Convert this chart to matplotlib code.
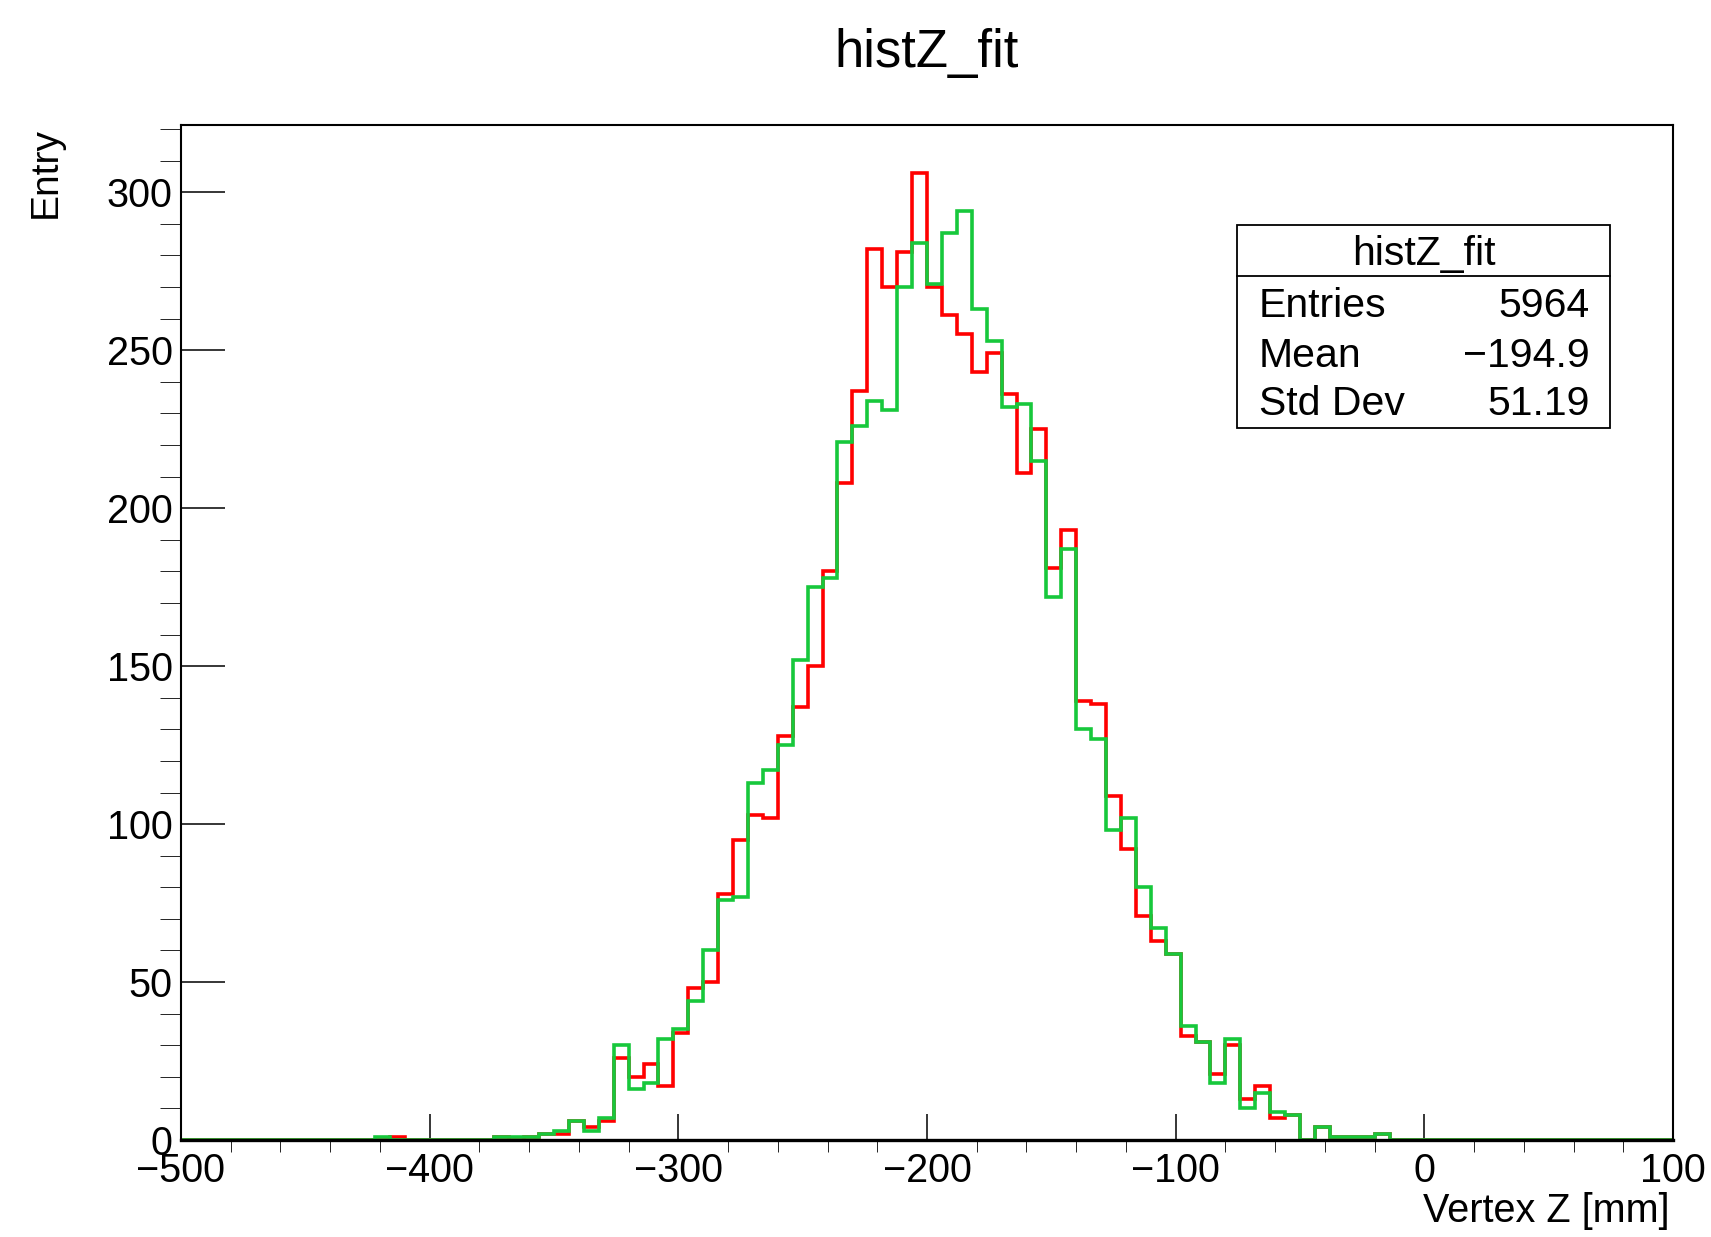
import numpy as np
import matplotlib
matplotlib.use('Agg')
import matplotlib.pyplot as plt
from matplotlib.patches import Rectangle
from matplotlib.lines import Line2D

plt.rcParams['font.family'] = ['Liberation Sans', 'DejaVu Sans']

# histogram binning: 100 bins from -500 to 100 mm
x_min, x_max, n_bins = -500, 100, 100

# bin contents (10 bins per row)
red_counts = [
    0, 0, 0, 0, 0, 0, 0, 0, 0, 0,
    0, 0, 0, 0, 1, 0, 0, 0, 0, 0,
    0, 1, 0, 1, 2, 2, 6, 4, 6, 26,
    20, 24, 17, 34, 48, 50, 78, 95, 103, 102,
    128, 137, 150, 180, 208, 237, 282, 270, 281, 306,
    270, 261, 255, 243, 249, 236, 211, 225, 181, 193,
    139, 138, 109, 92, 71, 63, 59, 33, 31, 21,
    30, 13, 17, 7, 8, 0, 4, 1, 1, 1,
    2, 0, 0, 0, 0, 0, 0, 0, 0, 0,
    0, 0, 0, 0, 0, 0, 0, 0, 0, 0,
]
green_counts = [
    0, 0, 0, 0, 0, 0, 0, 0, 0, 0,
    0, 0, 0, 1, 0, 0, 0, 0, 0, 0,
    0, 1, 1, 1, 2, 3, 6, 3, 7, 30,
    16, 18, 32, 35, 44, 60, 76, 77, 113, 117,
    125, 152, 175, 178, 221, 226, 234, 231, 270, 284,
    271, 287, 294, 263, 253, 232, 233, 215, 172, 187,
    130, 127, 98, 102, 80, 67, 59, 36, 31, 18,
    32, 10, 15, 9, 8, 0, 4, 1, 1, 1,
    2, 0, 0, 0, 0, 0, 0, 0, 0, 0,
    0, 0, 0, 0, 0, 0, 0, 0, 0, 0,
]

title = "histZ_fit"
stats_labels = ["Entries", "Mean", "Std Dev"]
stats_values = ["5964", "\u2212194.9", "51.19"]

W, H = 1711, 1237
fig = plt.figure(figsize=(W / 100, H / 100), dpi=100)

# frame in pixels: x 181..1673, y 125..1140
ax = fig.add_axes([181 / W, 1 - 1140 / H, (1673 - 181) / W, (1140 - 125) / H])

edges = np.linspace(x_min, x_max, n_bins + 1)
ax.stairs(red_counts, edges, color='#ff0000', linewidth=2.6, clip_on=False, zorder=2)
ax.stairs(green_counts, edges, color='#17c83c', linewidth=2.6, clip_on=False, zorder=2.1)

ax.set_xlim(x_min, x_max)
ax.set_ylim(0, 1.05 * max(red_counts))

ax.set_xticks(np.arange(-500, 101, 100))
ax.set_xticks(np.arange(-500, 101, 20), minor=True)
ax.set_yticks(np.arange(0, 301, 50))
ax.set_yticks(np.arange(0, 321, 10), minor=True)

ax.tick_params(axis='both', direction='in', labelsize=28.5, width=1.1)
ax.tick_params(axis='y', which='major', length=32, pad=6)
ax.tick_params(axis='y', which='minor', length=15)
ax.tick_params(axis='x', which='major', length=19, pad=9)
ax.tick_params(axis='x', which='minor', length=8.5)

for s in ax.spines.values():
    s.set_linewidth(1.5)
ax.spines['bottom'].set_linewidth(2.4)

# axis titles, ROOT style (right / top aligned)
fig.text(1670 / W, 1 - 1222 / H, "Vertex Z [mm]", ha='right', va='baseline', fontsize=28.5)
fig.text(46 / W, 1 - 127 / H, "Entry", rotation=90, ha='center', va='top', fontsize=28)

fig.text(927 / W, 1 - 67 / H, title, ha='center', va='baseline', fontsize=38)

# stats box
bx0, bx1, by0, by1 = 1237, 1610, 225, 428
fig.add_artist(Rectangle((bx0 / W, 1 - by1 / H), (bx1 - bx0) / W, (by1 - by0) / H,
                         transform=fig.transFigure, facecolor='white',
                         edgecolor='black', linewidth=1.3, zorder=5))
fig.add_artist(Line2D([bx0 / W, bx1 / W], [1 - 276 / H, 1 - 276 / H],
                      transform=fig.transFigure, color='black', linewidth=1.3, zorder=6))
fig.text((bx0 + bx1) / 2 / W, 1 - 265 / H, title, ha='center', va='baseline',
         fontsize=29.5, zorder=7)
for lab, val, yb in zip(stats_labels, stats_values, [317, 367, 415]):
    fig.text(1259 / W, 1 - yb / H, lab, ha='left', va='baseline', fontsize=29.5, zorder=7)
    fig.text(1590 / W, 1 - yb / H, val, ha='right', va='baseline', fontsize=29.5, zorder=7)

plt.savefig("out.png", dpi=100)
plt.close()
